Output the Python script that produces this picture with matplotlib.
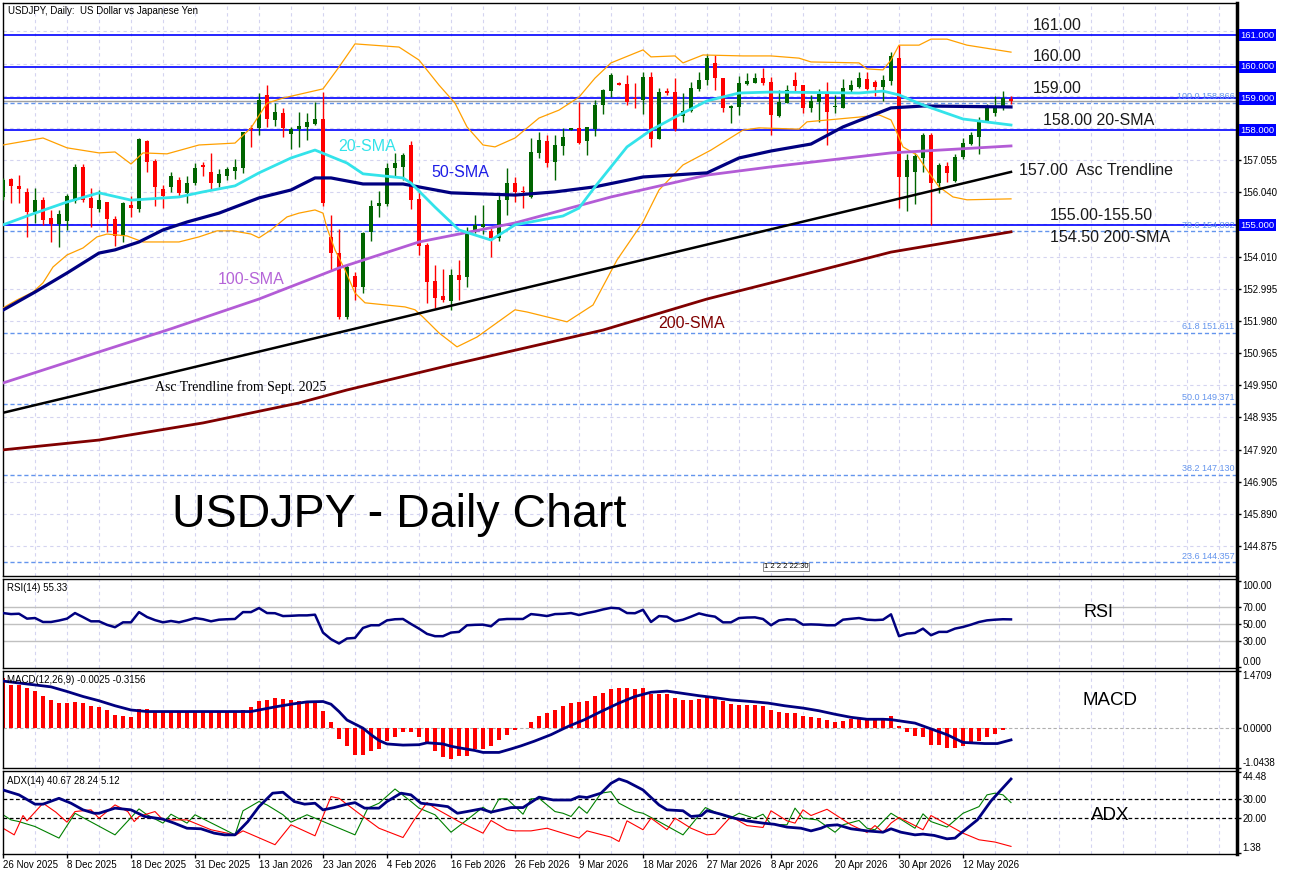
import numpy as np
import matplotlib
matplotlib.use('Agg')
from matplotlib import pyplot as plt
from matplotlib.transforms import blended_transform_factory as blend

plt.rcParams['font.family'] = ['Liberation Sans', 'DejaVu Sans']

W, H = 1290, 875
GRID = '#d4d4f0'
NAVY = '#000080'

DATE_LABELS = ['26 Nov 2025', '8 Dec 2025', '18 Dec 2025', '31 Dec 2025', '13 Jan 2026',
               '23 Jan 2026', '4 Feb 2026', '16 Feb 2026', '26 Feb 2026', '9 Mar 2026',
               '18 Mar 2026', '27 Mar 2026', '8 Apr 2026', '20 Apr 2026', '30 Apr 2026',
               '12 May 2026']

OPEN = [155.88, 156.45, 156.24, 156.06, 155.40, 155.80, 155.24, 155.04, 155.14, 155.76,
        156.83, 155.87, 155.50, 155.72, 155.19, 154.67, 155.64, 155.50, 157.67, 157.04,
        156.15, 156.20, 156.43, 156.01, 156.32, 156.91, 156.67, 156.32, 156.55, 156.71,
        156.79, 158.08, 158.06, 159.11, 158.32, 158.55, 157.87, 158.02, 158.11, 158.19,
        158.35, 154.64, 154.11, 152.09, 153.40, 153.06, 154.80, 155.59, 155.66, 156.79,
        156.82, 157.53, 155.82, 154.38, 153.24, 152.75, 152.62, 153.43, 153.36, 154.83,
        154.95, 154.83, 154.59, 155.80, 156.32, 156.09, 155.88, 157.29, 157.67, 157.00,
        157.50, 158.00, 158.06, 157.64, 158.02, 158.79, 159.24, 159.50, 159.45, 159.02,
        158.95, 159.69, 157.71, 159.24, 159.21, 158.45, 158.60, 159.29, 159.58, 160.11,
        159.65, 158.69, 158.74, 159.45, 159.50, 159.63, 159.53, 158.45, 158.87, 159.58,
        159.42, 158.71, 158.90, 159.13, 158.72, 158.71, 159.27, 159.37, 159.60, 159.53,
        159.37, 159.56, 160.26, 156.53, 156.69, 157.11, 157.85, 156.32, 156.87, 156.40,
        157.14, 157.56, 157.79, 158.29, 158.53, 158.69, 158.98]
HIGH = [156.48, 156.48, 156.58, 156.16, 156.18, 155.90, 155.48, 155.48, 155.98, 156.93,
        156.93, 156.16, 156.11, 155.74, 155.29, 155.74, 155.92, 157.74, 157.69, 157.08,
        156.27, 156.69, 156.53, 156.55, 156.97, 157.00, 157.27, 156.76, 156.82, 157.08,
        157.95, 158.16, 159.16, 159.42, 158.87, 158.69, 158.11, 158.58, 158.53, 158.90,
        159.21, 155.32, 154.87, 153.74, 153.53, 154.80, 155.80, 156.09, 156.95, 157.29,
        157.29, 157.64, 156.11, 154.43, 153.74, 153.61, 153.61, 153.90, 154.95, 155.32,
        155.64, 154.90, 155.95, 156.79, 156.53, 156.24, 157.74, 157.95, 157.85, 157.85,
        158.06, 158.06, 158.90, 158.09, 158.95, 159.29, 159.79, 159.53, 159.74, 159.48,
        159.84, 159.84, 159.32, 159.34, 159.63, 159.16, 159.53, 159.82, 160.40, 160.37,
        159.65, 158.78, 159.71, 159.79, 159.81, 159.97, 159.69, 159.27, 159.42, 159.84,
        159.42, 159.11, 159.29, 159.53, 159.11, 159.60, 159.58, 159.84, 159.84, 159.58,
        159.74, 160.47, 160.69, 157.25, 157.29, 157.92, 157.90, 156.95, 157.00, 157.24,
        157.74, 157.93, 158.40, 158.82, 159.06, 159.23, 159.06]
LOW = [155.80, 155.69, 155.69, 154.64, 155.06, 155.01, 154.48, 154.32, 154.85, 155.69,
       155.74, 154.95, 155.43, 154.80, 154.34, 154.48, 155.27, 155.40, 156.69, 155.62,
       155.53, 156.06, 155.90, 155.71, 156.27, 156.55, 156.13, 156.20, 156.43, 156.45,
       156.66, 157.48, 157.85, 158.11, 158.13, 157.79, 157.39, 157.48, 157.69, 158.16,
       155.59, 153.59, 152.05, 152.05, 152.64, 152.85, 154.51, 155.27, 155.59, 156.55,
       156.43, 155.50, 154.05, 152.54, 152.38, 152.59, 152.33, 152.64, 153.06, 154.74,
       154.72, 153.99, 154.51, 155.32, 155.74, 155.53, 155.85, 157.11, 156.82, 156.43,
       157.21, 158.00, 157.56, 157.21, 157.81, 158.51, 159.05, 159.42, 158.79, 158.69,
       158.51, 157.48, 157.71, 159.11, 157.98, 158.27, 158.58, 159.24, 159.42, 159.27,
       158.58, 158.23, 158.48, 159.42, 159.47, 159.42, 157.85, 158.41, 158.85, 159.23,
       158.55, 158.58, 158.27, 157.53, 158.53, 158.69, 159.16, 159.32, 159.27, 159.06,
       158.93, 159.42, 155.53, 155.46, 155.67, 156.69, 155.01, 156.01, 156.37, 156.37,
       157.08, 157.53, 157.25, 158.27, 158.45, 158.63, 158.82]
CLOSE = [156.43, 156.24, 156.15, 155.40, 155.80, 155.16, 155.04, 155.35, 155.92, 156.85,
         155.80, 155.53, 155.80, 155.19, 154.67, 155.69, 155.53, 157.72, 157.00, 156.20,
         155.93, 156.55, 156.01, 156.34, 156.79, 156.85, 156.32, 156.62, 156.76, 156.85,
         157.93, 158.04, 158.95, 158.34, 158.58, 158.06, 158.02, 158.13, 158.27, 158.35,
         155.71, 154.11, 152.09, 153.69, 153.06, 154.76, 155.61, 155.71, 156.79, 156.97,
         157.21, 155.80, 154.34, 153.22, 152.69, 152.64, 153.43, 153.27, 154.83, 155.01,
         155.04, 154.59, 155.80, 156.32, 156.06, 156.05, 157.32, 157.69, 156.97, 157.53,
         157.79, 158.06, 157.60, 158.09, 158.79, 159.27, 159.74, 159.42, 158.90, 158.97,
         159.69, 157.73, 159.21, 159.18, 158.02, 158.60, 159.32, 159.58, 160.26, 159.65,
         158.69, 158.76, 159.48, 159.56, 159.63, 159.47, 158.48, 158.90, 159.27, 159.39,
         158.71, 158.93, 159.13, 158.58, 158.74, 159.32, 159.42, 159.65, 159.30, 159.37,
         159.58, 160.34, 156.53, 157.06, 157.18, 157.85, 156.32, 156.90, 156.66, 157.14,
         157.58, 157.85, 158.32, 158.74, 158.76, 159.00, 158.93]

# moving averages / bands as (bar, value) vertices
SMA20_X = [0, 4, 8, 12, 16, 22, 25, 29, 32, 36, 39, 43, 45, 50, 51, 54, 57, 61, 64, 70,
           72, 74, 76, 78, 81, 84, 88, 92, 96, 107, 110, 112, 115, 120, 126]
SMA20_Y = [155.01, 155.38, 155.73, 156.02, 155.79, 155.89, 156.05, 156.24, 156.65, 157.12,
           157.37, 156.96, 156.62, 156.49, 156.33, 155.57, 154.85, 154.53, 155.01, 155.29,
           155.54, 156.21, 156.84, 157.47, 158.00, 158.41, 158.92, 159.17, 159.20, 159.17,
           159.23, 159.11, 158.79, 158.35, 158.16]
SMA50_X = [0, 4, 8, 12, 14, 17, 20, 23, 27, 32, 36, 39, 41, 45, 50, 56, 64, 69, 74, 80,
           88, 92, 96, 101, 105, 111, 115, 126]
SMA50_Y = [152.32, 152.89, 153.49, 154.12, 154.22, 154.47, 154.85, 155.10, 155.38, 155.86,
           156.11, 156.49, 156.49, 156.30, 156.30, 156.02, 155.95, 156.05, 156.21, 156.52,
           156.65, 157.12, 157.34, 157.56, 158.10, 158.70, 158.76, 158.73]
SMA100_X = [0, 12, 21, 32, 42, 52, 64, 76, 88, 96, 111, 126]
SMA100_Y = [150.02, 151.00, 151.73, 152.67, 153.65, 154.47, 155.07, 155.89, 156.58, 156.84,
            157.28, 157.50]
SMA200_X = [0, 12, 25, 37, 43, 56, 75, 88, 96, 111, 126]
SMA200_Y = [147.91, 148.22, 148.76, 149.39, 149.80, 150.59, 151.69, 152.67, 153.18, 154.15,
            154.79]
BB_UP_X = [0, 5, 8, 12, 14, 16, 17.5, 20.5, 24.5, 29, 31, 33, 35, 40, 42, 44, 49.5, 52,
           54.5, 56.5, 58, 60, 61.5, 64, 67, 69.5, 72, 74, 76, 80, 81, 84, 85, 87.5, 92.5,
           96, 99.5, 101, 107, 108, 110, 111, 112, 114.5, 116, 118, 120.5, 126]
BB_UP_Y = [157.53, 157.75, 157.44, 157.28, 157.31, 156.93, 157.28, 157.25, 157.53, 157.59,
           158.07, 158.85, 159.01, 159.30, 159.99, 160.72, 160.62, 160.21, 159.42, 158.85,
           158.10, 157.53, 157.47, 157.75, 158.38, 158.63, 159.04, 159.64, 160.12, 160.53,
           160.31, 160.34, 160.12, 160.37, 160.34, 160.34, 160.27, 160.15, 160.12, 159.93,
           159.90, 160.21, 160.68, 160.68, 160.87, 160.87, 160.68, 160.46]
BB_LO_X = [0, 1.75, 3.75, 5, 6.25, 8, 10, 11.75, 13, 15.5, 17.5, 22, 24.5, 26.75, 28.75,
           31, 32, 33.5, 35.5, 37, 39, 40, 40.5, 41.5, 42.75, 44, 45.25, 50.25, 51.5, 52.5,
           54.5, 56.75, 59.25, 64, 65.5, 70.5, 73.75, 76.75, 80, 82, 85, 88.5, 92.5, 94.5,
           99.5, 100.5, 107, 109.5, 111, 111.75, 112.5, 114.25, 115.5, 117, 118.75, 120.5, 126]
BB_LO_Y = [152.39, 152.64, 152.89, 153.18, 153.68, 154.06, 154.28, 154.63, 154.72, 154.66,
           154.47, 154.47, 154.63, 154.82, 154.82, 154.72, 154.60, 154.85, 155.26, 155.38,
           155.48, 155.38, 154.91, 154.22, 153.59, 152.86, 152.55, 152.42, 152.33, 152.10,
           151.60, 151.16, 151.47, 152.33, 152.26, 151.95, 152.48, 153.90, 155.10, 156.11,
           156.90, 157.37, 158.00, 158.07, 158.03, 158.26, 158.41, 158.48, 158.32, 157.91,
           157.47, 157.21, 156.74, 156.21, 155.89, 155.80, 155.83]
TREND_X = [0, 126]
TREND_Y = [149.08, 156.68]

LEVELS = [161.0, 160.0, 159.0, 158.0, 155.0]
FIB_PCT = ['100.0', '78.6', '61.8', '50.0', '38.2', '23.6']
FIB_LEVELS = [158.866, 154.802, 151.611, 149.371, 147.130, 144.357]
PRICE_TICKS = [144.875, 145.890, 146.905, 147.920, 148.935, 149.950, 150.965, 151.980,
               152.995, 154.010, 155.025, 156.040, 157.055, 158.070, 159.085, 160.100, 161.115]

RSI = [62.7, 61.5, 61.9, 56.2, 56.9, 52.3, 52.3, 54.0, 56.2, 62.7,
       58.0, 53.1, 53.1, 49.0, 46.2, 51.9, 51.9, 63.8, 58.1, 54.5,
       51.9, 53.5, 51.9, 54.2, 56.9, 55.5, 53.1, 55.0, 55.5, 55.8,
       63.8, 63.8, 68.5, 62.7, 62.5, 59.2, 59.5, 60.0, 60.0, 60.8,
       40.0, 32.3, 27.3, 33.1, 33.8, 45.4, 48.5, 48.5, 54.2, 55.5,
       55.8, 50.0, 44.6, 38.5, 35.8, 35.8, 40.0, 40.8, 48.5, 49.0,
       49.2, 47.3, 55.0, 55.8, 55.8, 55.8, 61.5, 60.5, 59.2, 61.5,
       61.8, 62.7, 60.4, 62.7, 64.5, 66.9, 68.8, 68.1, 62.7, 62.5,
       66.5, 52.3, 59.2, 58.5, 53.1, 55.0, 58.5, 62.3, 60.0, 58.5,
       51.9, 51.9, 56.9, 57.5, 57.7, 55.8, 48.5, 54.2, 55.5, 55.0,
       49.2, 49.5, 49.2, 48.5, 48.5, 55.0, 56.0, 56.9, 55.0, 54.5,
       55.0, 61.2, 35.8, 38.8, 39.6, 44.6, 36.9, 40.8, 40.8, 44.6,
       46.5, 49.2, 52.3, 54.2, 55.0, 55.5, 55.33]

MACD_HIST = [1.30, 1.11, 1.11, 1.02, 0.95, 0.82, 0.72, 0.65, 0.63, 0.67,
             0.65, 0.57, 0.54, 0.45, 0.33, 0.31, 0.28, 0.49, 0.48, 0.42,
             0.42, 0.42, 0.42, 0.42, 0.42, 0.42, 0.42, 0.42, 0.42, 0.42,
             0.46, 0.54, 0.70, 0.72, 0.77, 0.75, 0.72, 0.70, 0.68, 0.68,
             0.44, 0.14, -0.28, -0.48, -0.70, -0.70, -0.61, -0.54, -0.35, -0.25,
             -0.12, -0.12, -0.25, -0.39, -0.61, -0.76, -0.80, -0.72, -0.72, -0.54,
             -0.54, -0.48, -0.33, -0.18, -0.07, -0.01, 0.16, 0.31, 0.39, 0.46,
             0.57, 0.65, 0.67, 0.70, 0.81, 0.91, 1.00, 1.02, 1.02, 1.00,
             1.02, 0.88, 0.88, 0.88, 0.76, 0.72, 0.72, 0.75, 0.81, 0.76,
             0.70, 0.61, 0.59, 0.59, 0.59, 0.57, 0.46, 0.42, 0.39, 0.39,
             0.31, 0.28, 0.25, 0.21, 0.16, 0.18, 0.22, 0.22, 0.21, 0.21,
             0.21, 0.31, 0.05, -0.12, -0.22, -0.25, -0.44, -0.45, -0.52, -0.52,
             -0.48, -0.39, -0.35, -0.25, -0.15, -0.07, -0.0025]
SIG_X = [0, 6, 8, 10, 12, 14, 16, 18, 31, 32, 34, 36, 38, 40, 41, 42, 43, 45, 46, 47,
         48, 50, 52, 53, 55, 56, 57, 59, 60, 62, 63.5, 64.75, 66.4, 68.5, 70.6, 72.7, 74.75,
         77, 79, 81, 83, 85, 87, 89, 91, 93.5, 95.6, 97.7, 100, 102, 104, 106, 108, 110,
         111, 114, 116, 118, 120, 122.7, 124.3, 126]
SIG_Y = [1.21, 1.06, 0.94, 0.81, 0.70, 0.57, 0.46, 0.42, 0.42, 0.46, 0.54, 0.61, 0.67, 0.68,
         0.61, 0.42, 0.20, -0.01, -0.18, -0.33, -0.42, -0.45, -0.44, -0.39, -0.42, -0.48,
         -0.52, -0.59, -0.64, -0.64, -0.55, -0.47, -0.35, -0.18, 0.03, 0.21, 0.42, 0.64,
         0.81, 0.92, 0.95, 0.89, 0.83, 0.78, 0.72, 0.68, 0.64, 0.57, 0.51, 0.44, 0.35, 0.27,
         0.22, 0.22, 0.21, 0.12, -0.03, -0.18, -0.38, -0.41, -0.41, -0.3156]

ADX_X = [0, 2, 4, 5, 7, 8.5, 10, 11.4, 12, 14, 16, 17.7, 20, 21.4, 23, 24.75, 26.4, 27.7, 29,
         30.6, 32, 33.7, 35, 36.4, 37.7, 39, 40, 41.4, 43, 44, 45.2, 47, 48, 49.75, 51, 52.25,
         54, 55.6, 56.8, 58, 59.75, 61, 62.25, 63.5, 65, 67, 68.8, 71, 72, 73, 74.75, 76, 77,
         78, 80, 82, 83, 85, 86, 87.3, 88, 89.75, 91.4, 93, 95, 96.4, 98, 99.75, 101, 102.25,
         103, 104.3, 106, 108, 110, 111, 112.25, 114, 115, 116.4, 118, 119, 120, 121.8, 123.5,
         124.75, 126]
ADX_Y = [34.9, 32.3, 27.4, 27.4, 30.5, 27.9, 24.4, 22.6, 22.6, 25.3, 24.4, 20.9, 19.5, 17.4,
         14.7, 14.4, 12.1, 11.2, 11.2, 18.2, 26.1, 33.2, 33.7, 28.8, 27.4, 27.9, 24.4, 25.6,
         27.4, 28.2, 25.3, 25.3, 28.8, 33.2, 32.3, 27.9, 27.0, 26.1, 22.6, 23.5, 24.9, 23.2,
         24.4, 25.6, 25.6, 31.1, 29.6, 29.6, 31.4, 30.9, 33.2, 38.4, 40.7, 39.3, 34.9, 27.0,
         24.4, 23.9, 20.9, 21.4, 24.0, 22.1, 20.0, 18.6, 17.4, 16.8, 15.3, 14.7, 13.3, 14.7,
         16.1, 16.5, 14.4, 13.3, 12.6, 14.4, 12.6, 11.2, 11.6, 10.9, 9.1, 9.5, 13.0, 19.1,
         29.1, 34.9, 40.67]
PDI_X = [0, 1, 2, 4, 7, 9, 14, 17, 18, 20, 21, 23, 24, 29, 30, 32, 33, 35, 36, 38, 44, 45.6,
         47, 49, 51, 52, 54, 56, 58, 60, 61, 62, 63, 65, 66, 67, 69, 70, 71, 72, 73, 74.75,
         76, 77, 79, 80, 82, 85, 87.8, 89.75, 90.9, 92, 93.9, 95, 96, 98, 99, 100, 101.8,
         104, 105, 107, 108, 109, 111, 112, 114, 115, 116, 118, 120, 122, 123, 124, 125, 126]
PDI_Y = [21.8, 19.1, 18.2, 15.6, 9.5, 22.6, 11.2, 24.9, 21.8, 17.4, 22.1, 17.4, 21.8, 11.2,
         23.9, 28.8, 27.0, 21.8, 17.9, 21.8, 11.2, 25.3, 27.9, 35.4, 28.8, 25.3, 21.8, 12.6,
         19.1, 25.8, 22.6, 30.2, 30.2, 22.1, 30.2, 30.5, 23.5, 22.6, 20.9, 26.1, 22.6, 33.2,
         34.0, 27.9, 23.5, 22.6, 18.2, 11.2, 25.6, 21.8, 20.0, 22.6, 20.0, 22.1, 16.8, 16.5,
         25.3, 20.0, 19.1, 12.6, 16.5, 18.8, 14.7, 13.9, 22.6, 20.0, 14.7, 22.3, 18.2, 15.3,
         22.6, 26.1, 32.3, 33.2, 32.3, 28.24]
MDI_X = [0, 1.4, 2.5, 3, 5, 6.6, 8, 9, 11, 12, 14, 15.6, 16.4, 17, 19, 20, 23, 26, 28, 29, 30,
         34, 36, 39, 41, 42, 45, 47, 50, 51.4, 53, 54, 57, 60, 61, 63, 64, 66, 68, 72, 73, 76,
         77, 78, 80, 81, 83, 84, 86, 88, 89, 91, 93, 95, 96, 98, 99, 100, 101, 103, 106, 108,
         109, 110, 111, 112, 115, 116, 118, 120, 122, 124, 126]
MDI_Y = [14.7, 11.2, 21.4, 18.6, 27.9, 23.2, 17.9, 23.5, 24.4, 20.0, 27.0, 23.5, 18.2, 20.9,
         23.5, 19.1, 19.1, 13.9, 12.1, 10.9, 13.3, 6.0, 16.5, 10.7, 31.4, 30.5, 20.9, 14.7,
         9.8, 19.1, 28.2, 25.3, 18.2, 12.1, 18.8, 13.9, 13.3, 13.3, 14.7, 9.5, 13.3, 10.0,
         7.7, 18.6, 13.9, 20.0, 13.9, 20.0, 14.7, 11.2, 11.6, 20.9, 16.1, 15.1, 23.9, 18.6,
         17.4, 24.4, 21.4, 24.7, 16.5, 12.5, 16.1, 12.5, 17.4, 20.4, 13.9, 21.4, 16.8, 12.1,
         8.6, 7.4, 5.12]


def box(top, bottom):
    return [3 / W, 1 - bottom / H, 1234 / W, (bottom - top) / H]


def style(ax, ylim, ticks, fmt, hidden=(), tuck=False):
    ax.set_xlim(0, 154.25)
    ax.set_ylim(*ylim)
    ax.yaxis.tick_right()
    ax.set_yticks(ticks)
    labels = ['' if t in hidden else fmt.format(t) for t in ticks]
    ax.set_yticklabels(labels, fontsize=7)
    ax.tick_params(axis='y', length=3, width=1, pad=1)
    if tuck:
        # extreme labels sit inside the panel, as on the terminal
        tl = ax.get_yticklabels()
        tl[0].set_va('top')
        tl[-1].set_va('bottom')
    ax.set_xticks([])
    for k in range(4, 155, 4):
        ax.axvline(k, color=GRID, lw=0.8, ls=(0, (3, 3)), zorder=0)
    for s in ax.spines.values():
        s.set_linewidth(1)
    ax.spines['right'].set_linewidth(2.5)


fig = plt.figure(figsize=(W / 100, H / 100), dpi=100)

# ---- price panel
ax = fig.add_axes(box(3, 576))
covered = [t for t in PRICE_TICKS if min(abs(t - lv) for lv in LEVELS) < 0.2]
style(ax, (143.93, 162.01), PRICE_TICKS, '{:.3f}', hidden=covered)
for t in PRICE_TICKS:
    ax.axhline(t, color=GRID, lw=0.8, ls=(0, (3, 3)), zorder=0)
tr = blend(ax.transAxes, ax.transData)

x = np.arange(len(CLOSE))
o, h, l, c = (np.array(v) for v in (OPEN, HIGH, LOW, CLOSE))
col = np.where(c >= o, '#006400', '#ff0000')
ax.vlines(x, l, h, colors=col, lw=1, zorder=3)
ax.bar(x, np.maximum(np.abs(c - o), 0.025), bottom=np.minimum(o, c), width=0.62,
       color=col, zorder=3)

for lv in LEVELS:
    ax.axhline(lv, color='#0000ff', lw=1.2, zorder=2)
    ax.text(1.0027, lv, '{:.3f}'.format(lv), transform=tr, fontsize=6.8, color='white',
            va='center', ha='left', clip_on=False, zorder=10,
            bbox=dict(boxstyle='square,pad=0.18', fc='#0000ff', ec='none'))
ax.axhline(CLOSE[-1], color='#a0a0a0', lw=1, zorder=2)
for pct, lv in zip(FIB_PCT, FIB_LEVELS):
    ax.axhline(lv, color='#6495ed', lw=1, ls=(0, (3, 2)), zorder=2)
    ax.text(0.998, lv + 0.05, '{} {:.3f}'.format(pct, lv), transform=tr, ha='right',
            va='bottom', fontsize=6.5, color='#6495ed')

ax.plot(BB_UP_X, BB_UP_Y, color='#ffa000', lw=0.9, zorder=4)
ax.plot(BB_LO_X, BB_LO_Y, color='#ffa000', lw=0.9, zorder=4)
ax.plot(TREND_X, TREND_Y, color='black', lw=1.8, zorder=4)
ax.plot(SMA200_X, SMA200_Y, color='#800000', lw=2, zorder=4)
ax.plot(SMA100_X, SMA100_Y, color='#b35cd6', lw=2, zorder=4)
ax.plot(SMA50_X, SMA50_Y, color=NAVY, lw=2.3, zorder=4)
ax.plot(SMA20_X, SMA20_Y, color='#33e3ea', lw=2, zorder=4)

ax.text(0.004, 0.995, 'USDJPY, Daily:  US Dollar vs Japanese Yen', transform=ax.transAxes,
        fontsize=7, va='top')
note = dict(fontsize=11.5, color='#1a1a1a', va='center')
ax.text(128.75, 161.31, '161.00', **note)
ax.text(128.75, 160.31, '160.00', **note)
ax.text(128.75, 159.30, '159.00', **note)
ax.text(130.0, 158.29, '158.00 20-SMA', **note)
ax.text(127.0, 156.71, '157.00  Asc Trendline', **note)
ax.text(130.9, 155.32, '155.00-155.50', **note)
ax.text(130.9, 154.60, '154.50 200-SMA', **note)
ax.text(41.9, 157.47, '20-SMA', fontsize=11.5, color='#33e3ea', va='center')
ax.text(53.6, 156.65, '50-SMA', fontsize=11.5, color='#1e1ee6', va='center')
ax.text(26.9, 153.27, '100-SMA', fontsize=11.5, color='#b565d8', va='center')
ax.text(81.9, 151.91, '200-SMA', fontsize=11.5, color='#800000', va='center')
ax.text(19.0, 149.90, 'Asc Trendline from Sept. 2025', fontsize=10,
        family=['Liberation Serif', 'DejaVu Serif'], va='center')
ax.text(21.1, 145.86, 'USDJPY - Daily Chart', fontsize=33.5, va='center')
ax.text(97.9, 144.22, '1 2 2 2 22:30', fontsize=5.5, ha='center', va='center',
        bbox=dict(boxstyle='square,pad=0.1', fc='white', ec='#606060', lw=0.5))

# ---- RSI
ar = fig.add_axes(box(579, 668))
style(ar, (-1.2, 102.3), [100, 70, 50, 30, 0], '{:.2f}', tuck=True)
for lv in (70, 50, 30):
    ar.axhline(lv, color='#c0c0c0', lw=1, zorder=1)
ar.plot(x, RSI, color=NAVY, lw=1.8, zorder=3)
ar.text(0.003, 0.9, 'RSI(14) 55.33', transform=ar.transAxes, fontsize=7, va='center')
ar.text(136.9, 62.8, 'RSI', fontsize=13, ha='center', va='center')

# ---- MACD
am = fig.add_axes(box(671, 768))
style(am, (-1.0438, 1.4709), [1.4709, 0.0, -1.0438], '{:.4f}', tuck=True)
am.axhline(0, color='#b0b0b0', lw=0.8, ls=(0, (3, 2)), zorder=1)
am.bar(x, MACD_HIST, width=0.52, color='#ff0000', zorder=2)
am.plot(SIG_X, SIG_Y, color=NAVY, lw=2, zorder=3)
am.text(0.003, 0.907, 'MACD(12,26,9) -0.0025 -0.3156', transform=am.transAxes, fontsize=7,
        va='center')
am.text(138.4, 0.695, 'MACD', fontsize=13.5, ha='center', va='center')

# ---- ADX
aa = fig.add_axes(box(771, 854))
style(aa, (1.1, 44.9), [44.48, 30, 20, 1.38], '{:.2f}', tuck=True)
for lv in (30, 20):
    aa.axhline(lv, color='black', lw=0.9, ls=(0, (3, 2)), zorder=1)
aa.plot(PDI_X, PDI_Y, color='#008000', lw=0.8, zorder=2)
aa.plot(MDI_X, MDI_Y, color='#ff0000', lw=0.8, zorder=2)
aa.plot(ADX_X, ADX_Y, color=NAVY, lw=2, zorder=3)
aa.text(0.003, 0.88, 'ADX(14) 40.67 28.24 5.12', transform=aa.transAxes, fontsize=7,
        va='center')
aa.text(138.4, 21.2, 'ADX', fontsize=13.5, ha='center', va='center')
aa.set_xticks(range(0, 8 * len(DATE_LABELS), 8))
aa.set_xticklabels(DATE_LABELS, fontsize=7, ha='left')
aa.tick_params(axis='x', length=3, width=1, pad=1)

fig.savefig('out.png', dpi=100, facecolor='white')
